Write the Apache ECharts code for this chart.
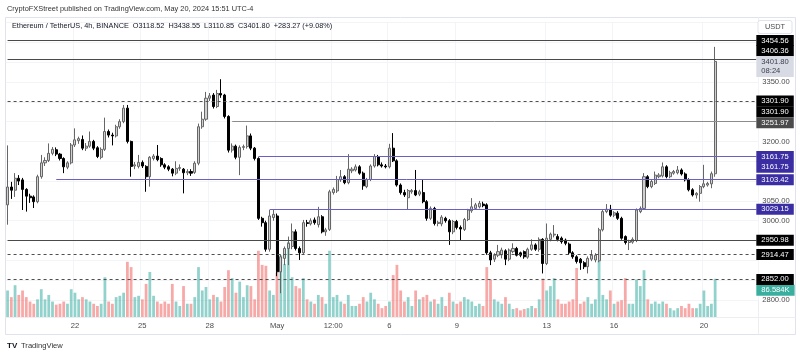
<!DOCTYPE html>
<html><head><meta charset="utf-8">
<script src="https://cdn.jsdelivr.net/npm/echarts@6/dist/echarts.min.js"></script>
<style>html,body{margin:0;padding:0;background:#fff;}#c{width:800px;height:357px;}</style>
</head><body><div id="c"></div>
<script>
// ---- data (ETHUSDT 4h, Binance) ----
const opens = [3040,3085,3077,3107,3103,3079,3062,3060,3048,3111,
3146,3152,3170,3179,3168,3157,3135,3146,3191,3202,
3205,3183,3188,3200,3184,3160,3180,3225,3216,3214,
3237,3250,3284,3200,3138,3137,3147,3137,3111,3157,
3163,3157,3141,3136,3130,3120,3132,3130,3121,3124,
3122,3145,3237,3256,3309,3317,3288,3321,3317,3263,
3178,3188,3160,3185,3187,3214,3183,3157,3006,2995,
2928,3008,3012,2871,2905,2930,2935,2972,2930,2919,
2995,2992,3002,2990,3010,2972,2978,3071,3075,3103,
3111,3096,3126,3128,3136,3120,3086,3104,3138,3162,
3141,3138,3136,3183,3151,3090,3071,3058,3073,3076,
3067,3071,3048,3006,3031,2993,2992,3006,3000,2972,
2998,2983,2978,3003,3025,3031,3035,3042,3040,2919,
2903,2913,2914,2924,2903,2922,2930,2919,2922,2908,
2928,2939,2928,2953,2892,2953,2964,2960,2956,2951,
2941,2919,2909,2903,2894,2884,2903,2901,2899,2977,
3023,3029,3014,3019,3006,2960,2945,2946,2950,3023,
3031,3111,3086,3094,3111,3113,3136,3111,3120,3121,
3128,3118,3103,3078,3065,3069,3086,3090,3093,3118.52];
const highs = [3190,3098,3120,3115,3108,3082,3068,3064,3116,3166,
3160,3195,3186,3185,3171,3160,3150,3196,3233,3212,
3215,3196,3225,3204,3188,3185,3260,3230,3222,3242,
3256,3292,3292,3202,3148,3166,3152,3140,3163,3168,
3191,3160,3145,3140,3133,3150,3142,3133,3130,3130,
3150,3245,3275,3325,3322,3322,3330,3357,3320,3266,
3195,3192,3190,3192,3240,3220,3186,3160,3010,3000,
3027,3028,3018,2915,2935,2960,2993,2978,2935,3002,
3002,3006,3008,3035,3014,2982,3078,3084,3113,3128,
3115,3168,3135,3142,3140,3124,3108,3142,3168,3166,
3147,3143,3194,3221,3155,3094,3078,3080,3080,3128,
3078,3103,3052,3036,3035,3000,3014,3010,3004,3002,
3002,2988,3007,3030,3057,3045,3050,3048,3044,2924,
2918,2939,2932,2928,2930,2943,2934,2922,2925,2932,
2953,2943,2958,2956,2993,2970,2989,2966,2960,2955,
2945,2923,2913,2906,2898,2910,2926,2918,2982,3028,
3042,3040,3024,3024,3010,2963,2952,2958,3031,3036,
3120,3115,3103,3124,3120,3147,3140,3126,3128,3138,
3132,3122,3107,3082,3072,3090,3141,3098,3124,3438.55];
const lows = [2990,3055,3060,3090,3027,3023,3045,3032,3044,3106,
3138,3148,3165,3163,3152,3120,3130,3142,3186,3194,
3178,3176,3184,3178,3158,3155,3176,3210,3190,3210,
3232,3246,3195,3111,3130,3132,3133,3073,3086,3152,
3150,3136,3130,3125,3112,3115,3126,3069,3115,3113,
3118,3140,3232,3252,3302,3283,3284,3310,3258,3172,
3172,3155,3115,3178,3182,3178,3152,3002,2985,2922,
2922,3000,2860,2817,2888,2888,2928,2925,2901,2915,
2985,2988,2990,2983,2968,2962,2974,3066,3070,3098,
3092,3092,3120,3124,3116,3078,3082,3100,3134,3137,
3134,3132,3132,3148,3086,3066,3060,3027,3068,3062,
3062,3044,3000,3002,2988,2986,2986,2995,2939,2966,
2978,2951,2974,2999,3020,3027,3031,3034,2914,2888,
2896,2908,2905,2888,2898,2918,2910,2908,2904,2904,
2924,2924,2922,2867,2888,2948,2958,2948,2942,2938,
2914,2904,2892,2876,2878,2867,2898,2895,2895,2973,
3019,3010,3009,3002,2952,2940,2926,2942,2946,3019,
3027,3082,3082,3090,3107,3109,3107,3107,3116,3117,
3114,3099,3074,3061,3056,3048,3082,3086,3082,3110.85];
const closes = [3085,3077,3107,3100,3079,3062,3058,3048,3111,3146,
3152,3170,3180,3168,3157,3136,3146,3191,3204,3207,
3183,3188,3200,3183,3162,3180,3225,3216,3214,3237,
3250,3284,3200,3137,3141,3147,3138,3111,3160,3163,
3154,3141,3135,3130,3120,3132,3134,3121,3124,3120,
3145,3237,3256,3309,3315,3288,3321,3317,3263,3178,
3188,3160,3185,3187,3214,3183,3157,3006,2995,2928,
3012,3016,2871,2909,2930,2943,2972,2930,2919,2995,
2993,3000,2995,3010,2972,2977,3073,3079,3104,3111,
3096,3130,3130,3136,3120,3088,3104,3138,3162,3141,
3138,3136,3183,3151,3090,3071,3065,3076,3076,3065,
3073,3048,3006,3031,2993,2996,3009,3000,2972,2998,
2983,2979,3003,3027,3035,3040,3044,3038,2919,2901,
2913,2922,2926,2903,2926,2930,2913,2913,2909,2928,
2939,2928,2953,2892,2956,2966,2966,2953,2947,2943,
2919,2909,2897,2894,2884,2905,2913,2913,2977,3023,
3029,3014,3020,3006,2956,2945,2950,2953,3027,3031,
3111,3086,3099,3115,3115,3136,3111,3121,3124,3128,
3118,3103,3078,3065,3069,3086,3093,3094,3118.52,3401.80];
// volume in thousands of ETH
const volumes = [60,45,72,50,60,45,35,30,40,63,
40,50,35,28,30,35,30,63,55,40,
45,40,35,30,25,30,90,35,30,45,
48,55,125,113,45,48,40,75,102,48,
35,30,35,30,75,35,25,70,30,30,
45,113,60,68,40,50,45,35,68,106,
88,55,80,45,72,70,40,150,118,116,
60,50,100,140,120,170,90,70,65,88,
40,35,30,50,45,30,150,45,50,35,
30,50,25,25,30,45,35,55,40,30,
20,25,35,95,118,60,35,45,25,60,
40,45,50,35,40,30,45,25,55,35,
30,35,45,40,35,25,30,25,113,85,
40,35,30,45,30,18,20,15,18,20,
25,20,40,87,60,70,88,40,30,30,
35,40,111,30,35,45,30,40,127,50,
40,60,30,35,38,88,30,30,85,70,
106,40,30,35,30,35,30,20,15,20,
25,20,30,20,20,30,60,25,30,86.584];
const tickIndex = [18,36,54,72,87,102,120,144,162,186];
const tickLabels = ['22','25','28','May','12:00','6','9','13','16','20'];
const priceTicksShown = [3350,3200,3050,3000,2800];
// horizontal levels drawn on the chart
const levelValues = [3454.56,3406.36,3301.90,3301.90,3251.97,3161.75,3161.75,3103.42,3029.15,2950.98,2914.47,2852.00];
const levelStartIdx = [0,0,0,0,60,67,67,13,70,0,0,0];
const levelKinds = ['black','black2','dash','dash2','gray','blue','blue2','blue','blue','black','dash','dash'];
const lastVolumeLabel = '86.584K';
const countdownLabel = '08:24';
const headerText = 'CryptoFXStreet published on TradingView.com, May 20, 2024 15:51 UTC-4';
const legendText = 'Ethereum / TetherUS, 4h, BINANCE  O3118.52  H3438.55  L3110.85  C3401.80  +283.27 (+9.08%)';

// ---- build ----
const N = opens.length;
const PAD = 11;
const cats = [];
const t0 = Date.UTC(2024, 3, 19, 0, 0);
for (let i = 0; i < N + PAD; i++) {
  const d = new Date(t0 + i * 4 * 3600 * 1000);
  cats.push(d.toISOString().slice(0, 16).replace('T', ' '));
}
const lastCat = cats[cats.length - 1];
const FONT = '"Liberation Sans", Arial, sans-serif';
const FS = 7.6;
const HIDDEN = 'rgba(0,0,0,0)';

const candleData = opens.map((o, i) => [o, closes[i], lows[i], highs[i]]);
const volData = volumes.map((v, i) => ({
  value: v,
  itemStyle: { color: closes[i] >= opens[i] ? 'rgba(38,166,154,0.5)' : 'rgba(239,83,80,0.5)' }
}));

const styles = {
  black: { line: { color: '#4a4a4a', width: 1, type: 'solid' }, bg: '#000000', fg: '#ffffff', dy: 0 },
  black2: { line: { color: '#4a4a4a', width: 1, type: 'solid' }, bg: '#000000', fg: '#ffffff', dy: -8.8 },
  dash: { line: { color: '#4f4f4f', width: 1, type: [3, 3] }, bg: '#000000', fg: '#ffffff', dy: 0 },
  dash2: { line: { color: HIDDEN, width: 1, type: 'solid' }, bg: '#000000', fg: '#ffffff', dy: 10.6 },
  gray: { line: { color: '#8c8c8c', width: 1, type: 'solid' }, bg: '#4b4b4b', fg: '#ffffff', dy: 1.8 },
  blue: { line: { color: '#6a5fc6', width: 1, type: 'solid' }, bg: '#3b2ea3', fg: '#ffffff', dy: 0 },
  blue2: { line: { color: HIDDEN, width: 1, type: 'solid' }, bg: '#3b2ea3', fg: '#ffffff', dy: 10.7 }
};

function tagLabel(text, fg, bg, dy, extra) {
  return Object.assign({
    show: true, position: 'end', distance: 0, formatter: text,
    color: fg, backgroundColor: bg, padding: [2, 5, 1, 5],
    fontSize: FS, fontFamily: FONT, offset: [0, dy], opacity: 1
  }, extra || {});
}

const markLines = levelValues.map((v, k) => {
  const st = styles[levelKinds[k]];
  return [
    { xAxis: cats[levelStartIdx[k]], yAxis: v, lineStyle: st.line, label: tagLabel(v.toFixed(2), st.fg, st.bg, st.dy) },
    { xAxis: lastCat, yAxis: v }
  ];
});
// current price tag with countdown
markLines.push([
  {
    xAxis: cats[N - 1], yAxis: closes[N - 1],
    lineStyle: { color: HIDDEN, width: 1 },
    label: tagLabel(closes[N - 1].toFixed(2) + '\n' + countdownLabel, '#3a3e4a', '#d8dbe4', 5, { lineHeight: 9 })
  },
  { xAxis: lastCat, yAxis: closes[N - 1] }
]);

const option = {
  animation: false,
  backgroundColor: '#ffffff',
  grid: [
    { left: 5.7, width: 752.5, top: 22.5, height: 277.5 },
    { left: 5.7, width: 752.5, top: 200, height: 117 }
  ],
  xAxis: [
    {
      type: 'category', gridIndex: 0, data: cats, boundaryGap: true,
      axisLine: { show: false }, axisTick: { show: false }, axisLabel: { show: false },
      splitLine: { show: true, interval: (i) => tickIndex.includes(i), lineStyle: { color: '#f3f4f7' } }
    },
    {
      type: 'category', gridIndex: 1, data: cats, boundaryGap: true,
      axisLine: { show: false }, axisTick: { show: false },
      splitLine: { show: false },
      axisLabel: {
        show: true, interval: (i) => tickIndex.includes(i),
        formatter: (val, i) => { const k = tickIndex.indexOf(i); return k >= 0 ? tickLabels[k] : ''; },
        color: '#4a4a4a', fontSize: FS, fontFamily: FONT, margin: 5
      }
    }
  ],
  yAxis: [
    {
      type: 'value', gridIndex: 0, position: 'right', min: 2800, max: 3500, interval: 50,
      axisLine: { show: false }, axisTick: { show: false },
      splitLine: { show: true, lineStyle: { color: '#f3f4f7' } },
      axisLabel: {
        show: true, margin: 4, color: '#4a4a4a', fontSize: FS, fontFamily: FONT,
        formatter: (v) => priceTicksShown.includes(v) ? v.toFixed(2) : ''
      }
    },
    {
      type: 'value', gridIndex: 1, min: 0, max: 265, show: false,
      splitLine: { show: false }
    }
  ],
  series: [
    {
      type: 'bar', xAxisIndex: 1, yAxisIndex: 1, data: volData, barWidth: '74%', z: 1,
      markLine: {
        symbol: ['none', 'none'], silent: true, animation: false,
        data: [[
          {
            xAxis: cats[N - 1], yAxis: volumes[N - 1], lineStyle: { color: HIDDEN, width: 1 },
            label: tagLabel(lastVolumeLabel, '#ffffff', '#3aae9f', 11.5)
          },
          { xAxis: lastCat, yAxis: volumes[N - 1] }
        ]]
      }
    },
    {
      type: 'candlestick', xAxisIndex: 0, yAxisIndex: 0, data: candleData, barWidth: '68%', z: 3,
      itemStyle: { color: '#d0d0d0', color0: '#000000', borderColor: '#666666', borderColor0: '#000000', borderWidth: 1 },
      markLine: { symbol: ['none', 'none'], silent: true, animation: false, data: markLines }
    }
  ],
  graphic: [
    { type: 'rect', z: -10, shape: { x: 5.5, y: 17.5, width: 790, height: 317 }, style: { fill: 'none', stroke: '#e0e3eb', lineWidth: 1 } },
    { type: 'line', z: -10, shape: { x1: 758.5, y1: 17.5, x2: 758.5, y2: 334.5 }, style: { stroke: '#eceef2', lineWidth: 1 } },
    { type: 'line', z: -10, shape: { x1: 5.5, y1: 317.5, x2: 795.5, y2: 317.5 }, style: { stroke: '#eceef2', lineWidth: 1 } },
    { type: 'text', x: 7, y: 9, style: { text: headerText, fill: '#333333', fontSize: 7.4, fontFamily: FONT, verticalAlign: 'middle' } },
    { type: 'text', x: 12, y: 25.5, z: 10, style: { text: legendText, fill: '#131722', fontSize: 7.3, fontFamily: FONT, verticalAlign: 'middle' } },
    { type: 'rect', z: 10, shape: { x: 758, y: 20.5, width: 34, height: 13, r: 2 }, style: { fill: '#ffffff', stroke: '#e0e3eb', lineWidth: 1 } },
    { type: 'text', z: 11, x: 775, y: 27, style: { text: 'USDT', fill: '#4a4a4a', fontSize: 7.4, fontFamily: FONT, align: 'center', verticalAlign: 'middle' } },
    { type: 'text', x: 7, y: 346, style: { text: 'TV', fill: '#131722', fontSize: 8, fontWeight: 900, fontFamily: FONT, verticalAlign: 'middle' } },
    { type: 'text', x: 21, y: 346, style: { text: 'TradingView', fill: '#333333', fontSize: 7.6, fontFamily: FONT, verticalAlign: 'middle' } }
  ]
};
const chart = echarts.init(document.getElementById('c'), null, { renderer: 'canvas' });
chart.setOption(option);
</script>
</body></html>
